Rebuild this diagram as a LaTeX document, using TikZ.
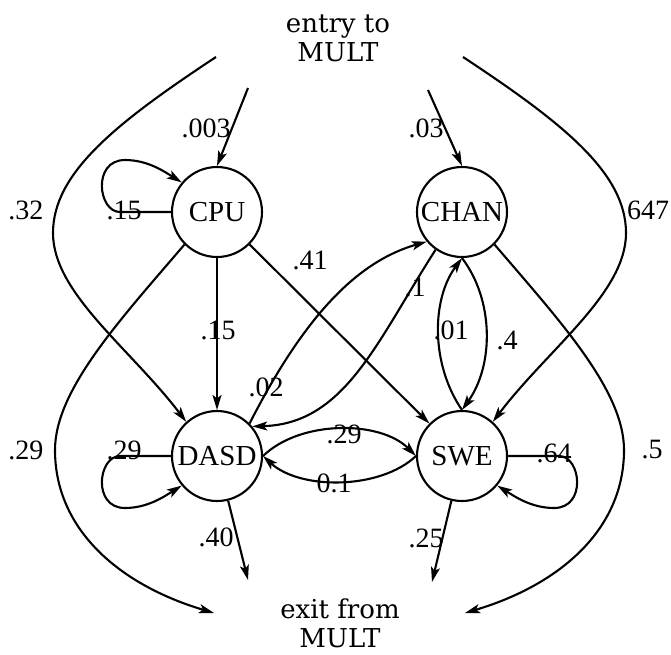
\documentclass[tikz,border=0pt]{standalone}
\usepackage{fontspec}
\setmainfont{Liberation Serif}
\newfontfamily\slabfont{DejaVu Serif}
\usetikzlibrary{arrows.meta}

\tikzset{
  stn/.style={circle,draw,minimum size=90pt,inner sep=0pt,font=\fontsize{29}{29}\selectfont},
  prob/.style={inner sep=0pt,font=\fontsize{28}{28}\selectfont},
  ends/.style={align=center,inner sep=0pt,font=\slabfont\fontsize{26}{29}\selectfont}
}

\begin{document}
\begin{tikzpicture}[x=1pt,y=-1pt,line width=2.1pt,>={Stealth[length=15pt,width=9pt,inset=3.5pt]}]
\useasboundingbox (0,0) rectangle (671,654);

% stations
\node[stn] (CPU) at (217,212) {CPU};
\node[stn] (CHAN) at (462,212) {CHAN};
\node[stn] (DASD) at (217,456) {DASD};
\node[stn] (SWE) at (462,456) {SWE};
\node[ends] (entry) at (338,38) {entry to\\MULT};
\node[ends] (exit) at (340,623) {exit from\\MULT};

% free ends
\coordinate (inC) at (248,88);
\coordinate (inH) at (428,90);
\coordinate (inL) at (216,57);
\coordinate (inR) at (463,57);
\coordinate (outL) at (214,613);
\coordinate (outR) at (465,613);
\coordinate (outD) at (248,580);
\coordinate (outS) at (432,582);

% entry
\draw[->] (inC) -- (CPU.north);
\draw[->] (inH) -- (CHAN.north);
\draw[->] (inL) .. controls (116,123) and (53,173) .. (53,233) .. controls (53,293) and (130,348) .. (DASD.132);
\draw[->] (inR) .. controls (563,123) and (626,173) .. (626,233) .. controls (626,293) and (549,348) .. (SWE.48);

% exit
\draw[->] (CPU.225) .. controls (120,320) and (55,390) .. (55,450) .. controls (55,530) and (120,585) .. (outL);
\draw[->] (CHAN.315) .. controls (559,320) and (624,390) .. (624,450) .. controls (624,530) and (559,585) .. (outR);
\draw[->] (DASD) -- (outD);
\draw[->] (SWE) -- (outS);

% between stations
\draw[->] (CPU) -- (DASD);
\draw[->] (CPU) -- (SWE);
\draw[->] (DASD.45) .. controls (306,313) and (359,261) .. (CHAN.220);
\draw[->] (CHAN.235) .. controls (377,341) and (345,424) .. (DASD.40);
\draw[->] (SWE.north) .. controls (431,365) and (431,300) .. (CHAN.south);
\draw[->] (CHAN.south) .. controls (494,300) and (494,365) .. (SWE.north);
\draw[->] (DASD.east) .. controls (300,420) and (380,420) .. (SWE.west);
\draw[->] (SWE.west) .. controls (380,490) and (300,490) .. (DASD.east);

% loops
\draw[->] (CPU.west) -- (120,212) .. controls (98,212) and (92,160) .. (125,160) .. controls (148,160) and (165,172) .. (CPU.140);
\draw[->] (DASD.west) -- (120,456) .. controls (98,456) and (92,508) .. (125,508) .. controls (148,508) and (165,496) .. (DASD.220);
\draw[->] (SWE.east) -- (559,456) .. controls (581,456) and (587,508) .. (554,508) .. controls (531,508) and (514,496) .. (SWE.-40);

% probabilities
\node[prob] (p003) at (206,128) {.003};
\node[prob] (p03) at (426,128) {.03};
\node[prob] (p32) at (26,210) {.32};
\node[prob] (p647) at (648,210) {647};
\node[prob] (p15a) at (124,210) {.15};
\node[prob] (p41) at (310,260) {.41};
\node[prob] (p1) at (415,287) {.1};
\node[prob] (p15b) at (218,330) {.15};
\node[prob] (p01) at (451,330) {.01};
\node[prob] (p4) at (507,340) {.4};
\node[prob] (p02) at (266,387) {.02};
\node[prob] (p29a) at (26,450) {.29};
\node[prob] (p29b) at (124,450) {.29};
\node[prob] (p29c) at (344,434) {.29};
\node[prob] (p01b) at (334,483) {0.1};
\node[prob] (p64) at (554,453) {.64};
\node[prob] (p5) at (652,450) {.5};
\node[prob] (p40) at (216,537) {.40};
\node[prob] (p25) at (426,538) {.25};
\end{tikzpicture}
\end{document}
